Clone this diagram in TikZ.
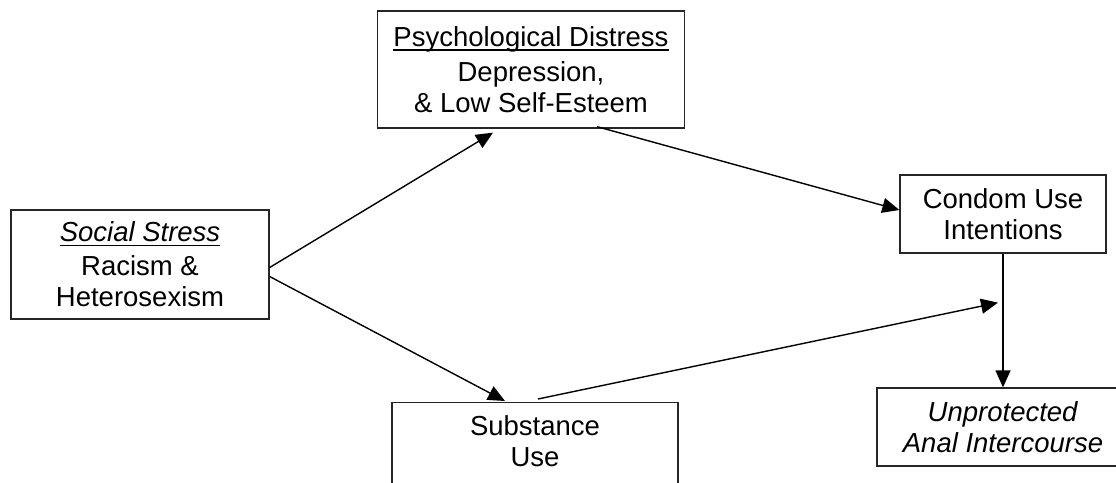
\documentclass[tikz,border=0pt]{standalone}
\usepackage{fontspec}
\setmainfont{Liberation Sans}
\usetikzlibrary{arrows.meta,calc}
\newcommand{\thickul}[1]{\setbox0\hbox{#1}\rlap{\raisebox{-4.5pt}{\rule{\wd0}{1.8pt}}}\box0}
\begin{document}
\begin{tikzpicture}[x=1pt,y=-1pt,
  box/.style={draw=black!85,line width=1.3pt,rectangle,align=center,inner sep=0pt,
    font=\fontsize{27.5}{31}\selectfont},
  arr/.style={line width=1.4pt,-{Triangle[length=17pt,width=15pt]}}]
\useasboundingbox (0,0) rectangle (1116,482);
\fill[white] (0,0) rectangle (1116,482);
\begin{scope}
\clip (0,0) rectangle (1116,482);
\node[box,minimum width=258pt,minimum height=109pt] (social) at (140,264.5)
  {\thickul{\textit{Social Stress}}\\[3pt]Racism \&\\Heterosexism};
\node[box,minimum width=307pt,minimum height=117pt] (psych) at (531,69.5)
  {\thickul{Psychological Distress}\\[4pt]Depression,\\\& Low Self-Esteem};
\node[box,minimum width=286pt,anchor=north,inner ysep=13pt,text depth=40pt] (subst) at (535,402)
  {Substance\\Use};
\node[box,minimum width=206pt,minimum height=78pt] (condom) at (1003,214)
  {Condom Use\\Intentions};
\node[box,minimum width=252pt,minimum height=78pt] (unprot) at (1003,427)
  {\textit{Unprotected}\\\textit{Anal Intercourse}};
\coordinate (mid) at ($(condom.south)+(-5,49)$);
\draw[arr] ($(social.east)+(0,3)$) -- ($(psych.south)+(-38,4)$);
\draw[arr] ($(social.east)+(0,12)$) -- ($(subst.north)+(-30,-1)$);
\draw[arr] ($(psych.south)+(66,-2)$) -- ($(condom.west)+(0,-4)$);
\draw[arr] ($(subst.north)+(3,-3)$) -- (mid);
\draw[arr] (condom.south) -- (unprot.north);
\end{scope}
\end{tikzpicture}
\end{document}
